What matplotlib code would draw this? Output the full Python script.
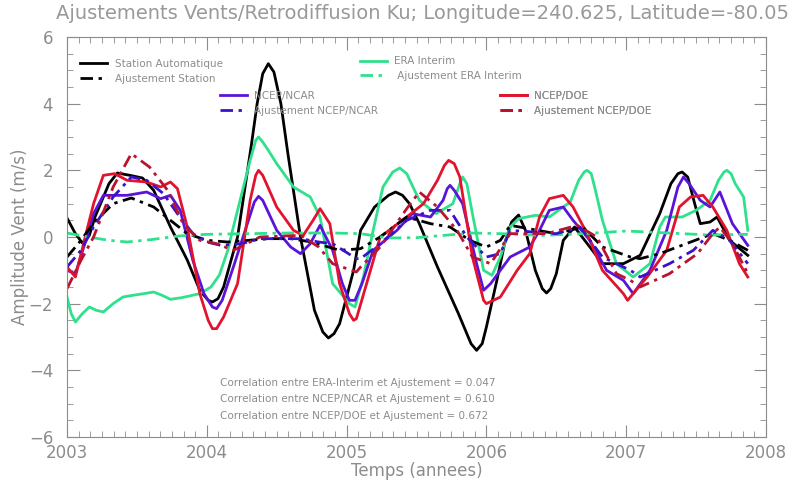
import matplotlib
matplotlib.use("Agg")
import matplotlib.pyplot as plt
from matplotlib.ticker import MultipleLocator

# --- data (decimal year, m/s) ---
t_station = [2003.00, 2003.06, 2003.11, 2003.16, 2003.20, 2003.30, 2003.36, 2003.45, 2003.54, 2003.62,
             2003.74, 2003.86, 2003.95, 2004.01, 2004.04, 2004.08, 2004.12, 2004.22, 2004.32, 2004.36,
             2004.40, 2004.44, 2004.48, 2004.53, 2004.58, 2004.67, 2004.77, 2004.83, 2004.87, 2004.91,
             2004.95, 2005.05, 2005.10, 2005.20, 2005.30, 2005.35, 2005.40, 2005.45, 2005.52, 2005.65,
             2005.80, 2005.89, 2005.93, 2005.97, 2006.00, 2006.08, 2006.13, 2006.18, 2006.23, 2006.28,
             2006.35, 2006.40, 2006.43, 2006.46, 2006.50, 2006.55, 2006.63, 2006.74, 2006.83, 2006.98,
             2007.10, 2007.24, 2007.32, 2007.37, 2007.40, 2007.44, 2007.49, 2007.53, 2007.60, 2007.65,
             2007.74, 2007.87]
v_station = [0.57, 0.1, -0.18, 0.05, 0.6, 1.6, 1.92, 1.85, 1.77, 1.4,
             0.3, -0.69, -1.6, -1.9, -1.95, -1.85, -1.5, 0.0, 2.8, 4.0,
             4.9, 5.2, 4.95, 4.0, 2.5, 0.0, -2.2, -2.85, -3.03, -2.9,
             -2.6, -1.0, 0.2, 0.9, 1.25, 1.35, 1.25, 1.0, 0.4, -0.9,
             -2.3, -3.2, -3.4, -3.2, -2.7, -1.2, -0.2, 0.45, 0.66, 0.2,
             -1.0, -1.55, -1.68, -1.55, -1.1, -0.1, 0.3, -0.3, -0.8, -0.8,
             -0.55, 0.7, 1.6, 1.9, 1.95, 1.8, 1.0, 0.4, 0.45, 0.6,
             -0.1, -0.55]

t_era = [2003.00, 2003.03, 2003.06, 2003.11, 2003.16, 2003.21, 2003.26, 2003.33, 2003.40, 2003.47,
         2003.55, 2003.62, 2003.68, 2003.74, 2003.82, 2003.95, 2004.03, 2004.09, 2004.15, 2004.19,
         2004.31, 2004.35, 2004.37, 2004.40, 2004.44, 2004.50, 2004.62, 2004.74, 2004.81, 2004.90,
         2005.02, 2005.06, 2005.12, 2005.19, 2005.26, 2005.33, 2005.38, 2005.43, 2005.52, 2005.64,
         2005.76, 2005.81, 2005.83, 2005.86, 2005.90, 2005.98, 2006.04, 2006.10, 2006.17, 2006.23,
         2006.35, 2006.45, 2006.60, 2006.66, 2006.70, 2006.72, 2006.75, 2006.78, 2006.83, 2006.93,
         2007.05, 2007.17, 2007.24, 2007.28, 2007.40, 2007.50, 2007.60, 2007.66, 2007.70, 2007.72,
         2007.75, 2007.78, 2007.84, 2007.87]
v_era = [-1.8, -2.3, -2.55, -2.3, -2.1, -2.2, -2.25, -2.0, -1.8, -1.75,
         -1.7, -1.65, -1.75, -1.87, -1.82, -1.7, -1.5, -1.14, -0.4, 0.3,
         2.3, 2.9, 3.0, 2.85, 2.6, 2.2, 1.5, 1.2, 0.6, -1.4,
         -2.0, -2.1, -1.2, 0.2, 1.5, 1.95, 2.07, 1.9, 1.1, 0.7,
         1.0, 1.6, 1.8, 1.6, 0.7, -1.0, -1.15, -0.6, 0.3, 0.55,
         0.65, 0.6, 1.05, 1.7, 1.95, 2.0, 1.9, 1.4, 0.5, -0.8,
         -1.2, -0.8, 0.3, 0.6, 0.6, 0.8, 1.1, 1.7, 1.95, 2.0,
         1.9, 1.6, 1.2, 0.2]

t_ncar = [2003.00, 2003.06, 2003.12, 2003.19, 2003.26, 2003.43, 2003.57, 2003.67, 2003.74, 2003.81,
          2003.90, 2003.98, 2004.04, 2004.07, 2004.11, 2004.19, 2004.29, 2004.34, 2004.37, 2004.40,
          2004.50, 2004.60, 2004.67, 2004.74, 2004.81, 2004.90, 2004.97, 2005.02, 2005.06, 2005.11,
          2005.19, 2005.36, 2005.47, 2005.60, 2005.69, 2005.72, 2005.74, 2005.77, 2005.83, 2005.93,
          2005.98, 2006.03, 2006.17, 2006.31, 2006.38, 2006.45, 2006.55, 2006.62, 2006.74, 2006.86,
          2006.98, 2007.05, 2007.17, 2007.29, 2007.37, 2007.41, 2007.45, 2007.53, 2007.60, 2007.67,
          2007.76, 2007.87]
v_ncar = [-1.0, -1.1, -0.3, 0.7, 1.25, 1.25, 1.35, 1.15, 1.25, 0.8,
          -0.7, -1.7, -2.1, -2.15, -1.9, -0.9, 0.4, 1.05, 1.22, 1.1,
          0.2, -0.3, -0.5, -0.2, 0.35, -0.4, -1.4, -1.9, -1.9, -1.4,
          -0.4, 0.2, 0.7, 0.6, 1.1, 1.45, 1.55, 1.4, 1.0, -0.8,
          -1.6, -1.4, -0.6, -0.3, 0.2, 0.8, 0.9, 0.5, -0.1, -1.0,
          -1.3, -1.7, -1.0, 0.2, 1.5, 1.8, 1.6, 1.1, 0.9, 1.35,
          0.4, -0.25]

t_doe = [2003.00, 2003.06, 2003.13, 2003.19, 2003.26, 2003.34, 2003.43, 2003.57, 2003.67, 2003.74,
         2003.79, 2003.86, 2003.95, 2004.01, 2004.04, 2004.07, 2004.12, 2004.22, 2004.31, 2004.35,
         2004.37, 2004.40, 2004.50, 2004.62, 2004.69, 2004.76, 2004.81, 2004.88, 2004.95, 2005.02,
         2005.05, 2005.07, 2005.15, 2005.24, 2005.43, 2005.55, 2005.65, 2005.70, 2005.73, 2005.77,
         2005.81, 2005.90, 2005.98, 2006.00, 2006.10, 2006.22, 2006.31, 2006.38, 2006.45, 2006.55,
         2006.62, 2006.72, 2006.83, 2006.98, 2007.01, 2007.15, 2007.29, 2007.38, 2007.46, 2007.55,
         2007.62, 2007.72, 2007.81, 2007.87]
v_doe = [-0.9, -1.2, 0.0, 1.0, 1.85, 1.9, 1.7, 1.65, 1.5, 1.65,
         1.45, 0.3, -1.7, -2.5, -2.75, -2.75, -2.4, -1.4, 1.1, 1.85,
         2.0, 1.85, 0.9, 0.2, 0.05, 0.5, 0.85, 0.4, -1.4, -2.3,
         -2.5, -2.45, -1.3, 0.0, 0.6, 1.0, 1.7, 2.15, 2.3, 2.2,
         1.8, -0.6, -1.9, -2.0, -1.8, -1.0, -0.5, 0.6, 1.15, 1.25,
         0.9, 0.1, -1.0, -1.7, -1.9, -1.2, -0.4, 0.9, 1.2, 1.25,
         0.9, 0.2, -0.8, -1.2]

t_adj_station = [2003.00, 2003.10, 2003.19, 2003.33, 2003.46, 2003.62, 2003.74, 2003.86, 2004.00, 2004.15,
                 2004.30, 2004.45, 2004.60, 2004.75, 2004.95, 2005.10, 2005.24, 2005.43, 2005.60, 2005.74,
                 2005.88, 2006.00, 2006.10, 2006.17, 2006.50, 2006.69, 2006.83, 2007.03, 2007.10, 2007.24,
                 2007.43, 2007.62, 2007.74, 2007.87]
v_adj_station = [-0.6, -0.1, 0.42, 1.0, 1.17, 0.9, 0.5, 0.1, -0.1, -0.15,
                 -0.1, -0.05, -0.05, -0.15, -0.4, -0.35, 0.0, 0.6, 0.4, 0.3,
                 -0.1, -0.3, -0.1, 0.35, 0.1, 0.3, -0.3, -0.6, -0.65, -0.5,
                 -0.2, 0.1, -0.1, -0.4]

t_adj_era = [2003.00, 2003.15, 2003.30, 2003.43, 2003.60, 2003.80, 2004.00, 2004.30, 2004.60, 2004.90,
             2005.10, 2005.30, 2005.50, 2005.70, 2005.90, 2006.10, 2006.40, 2006.70, 2007.00, 2007.30,
             2007.60, 2007.87]
v_adj_era = [0.12, 0.0, -0.1, -0.15, -0.08, 0.03, 0.08, 0.1, 0.12, 0.12,
             0.1, -0.03, -0.02, 0.05, 0.12, 0.1, 0.05, 0.1, 0.18, 0.12,
             0.06, 0.08]

t_adj_ncar = [2003.00, 2003.10, 2003.19, 2003.33, 2003.46, 2003.57, 2003.69, 2003.79, 2003.90, 2004.00,
              2004.10, 2004.25, 2004.38, 2004.67, 2004.80, 2004.90, 2005.07, 2005.10, 2005.24, 2005.43,
              2005.60, 2005.74, 2005.86, 2006.00, 2006.10, 2006.17, 2006.50, 2006.67, 2006.83, 2007.03,
              2007.10, 2007.31, 2007.48, 2007.62, 2007.74, 2007.87]
v_adj_ncar = [-0.9, -0.4, 0.3, 1.2, 1.8, 1.7, 1.3, 0.7, 0.1, -0.15,
              -0.25, -0.2, -0.05, -0.05, -0.15, -0.2, -0.65, -0.65, -0.2, 0.5,
              0.8, 0.8, 0.0, -0.6, -0.5, 0.2, 0.1, 0.3, -0.6, -1.0,
              -1.2, -0.8, -0.4, 0.2, -0.1, -0.8]

t_adj_doe = [2003.00, 2003.10, 2003.19, 2003.33, 2003.46, 2003.59, 2003.72, 2003.83, 2003.95, 2004.07,
             2004.19, 2004.38, 2004.67, 2004.80, 2004.90, 2005.07, 2005.10, 2005.24, 2005.43, 2005.52,
             2005.65, 2005.79, 2005.90, 2006.03, 2006.17, 2006.43, 2006.65, 2006.79, 2006.93, 2007.03,
             2007.10, 2007.31, 2007.51, 2007.62, 2007.67, 2007.76, 2007.87]
v_adj_doe = [-1.55, -0.7, 0.0, 1.5, 2.5, 2.1, 1.4, 0.4, -0.1, -0.2,
             -0.4, 0.0, 0.05, -0.3, -0.8, -1.05, -0.9, -0.3, 0.85, 1.35,
             0.9, 0.2, -0.6, -0.8, 0.1, 0.1, 0.35, 0.0, -1.1, -1.3,
             -1.5, -1.1, -0.5, 0.1, 0.3, -0.2, -1.1]

correlations = [("ERA-Interim", 0.047), ("NCEP/NCAR", 0.610), ("NCEP/DOE", 0.672)]

GREY = "#8c8c8c"
DASHDOT = (0, (4.5, 2, 1.2, 2))

fig = plt.figure(figsize=(7.95, 4.87), dpi=100)
ax = fig.add_axes([0.0843, 0.1027, 0.8792, 0.8213])

l_st, = ax.plot(t_station, v_station, color="black", lw=2, label="Station Automatique")
l_era, = ax.plot(t_era, v_era, color="#2fe08c", lw=2, label="ERA Interim")
l_ncar, = ax.plot(t_ncar, v_ncar, color="#5a14d8", lw=2, label="NCEP/NCAR")
l_doe, = ax.plot(t_doe, v_doe, color="#e2132e", lw=2, label="NCEP/DOE")
a_st, = ax.plot(t_adj_station, v_adj_station, color="black", lw=2, ls=DASHDOT, label="Ajustement Station")
a_era, = ax.plot(t_adj_era, v_adj_era, color="#2fe08c", lw=2, ls=DASHDOT, label=" Ajustement ERA Interim")
a_ncar, = ax.plot(t_adj_ncar, v_adj_ncar, color="#3a12c8", lw=2, ls=DASHDOT, label="Ajustement NCEP/NCAR")
a_doe, = ax.plot(t_adj_doe, v_adj_doe, color="#b8142e", lw=2, ls=DASHDOT, label="Ajustement NCEP/DOE")

ax.set_xlim(2003, 2008)
ax.set_ylim(-6, 6)
ax.xaxis.set_major_locator(MultipleLocator(1))
ax.xaxis.set_minor_locator(MultipleLocator(1 / 12))
ax.yaxis.set_major_locator(MultipleLocator(2))
ax.yaxis.set_minor_locator(MultipleLocator(0.5))
ax.tick_params(which="both", direction="in", top=True, right=True, color=GREY,
               labelcolor=GREY, labelsize=12)
ax.tick_params(which="major", length=9)
ax.tick_params(which="minor", length=4)
ax.tick_params(axis="x", which="major", pad=5)
ax.tick_params(axis="y", which="major", pad=10)
for s in ax.spines.values():
    s.set_color(GREY)
    s.set_linewidth(0.8)

ax.set_xlabel("Temps (annees)", color=GREY, fontsize=12, labelpad=0)
ax.set_ylabel("Amplitude Vent (m/s)", color=GREY, fontsize=12, labelpad=0)
fig.text(0.531, 0.972, "Ajustements Vents/Retrodiffusion Ku; Longitude=240.625, Latitude=-80.05",
         ha="center", va="center", color="#999999", fontsize=14)

# four little legend blocks, as in the original
legend_opts = dict(loc="upper left", frameon=False, fontsize=7.5, labelcolor=GREY,
                   handlelength=2.6, handletextpad=0.7, labelspacing=0.45, borderpad=0,
                   borderaxespad=0)
for handles, anchor in [([l_st, a_st], (0.019, 0.945)),
                        ([l_era, a_era], (0.419, 0.952)),
                        ([l_ncar, a_ncar], (0.219, 0.865)),
                        ([l_doe, a_doe], (0.619, 0.865))]:
    leg = ax.legend(handles=handles, bbox_to_anchor=anchor, **legend_opts)
    ax.add_artist(leg)

for i, (name, r) in enumerate(correlations):
    ax.text(0.219, 0.135 - i * 0.041, f"Correlation entre {name} et Ajustement = {r:.3f}",
            transform=ax.transAxes, color=GREY, fontsize=7.5, va="center")

fig.savefig("out.png", dpi=100)
